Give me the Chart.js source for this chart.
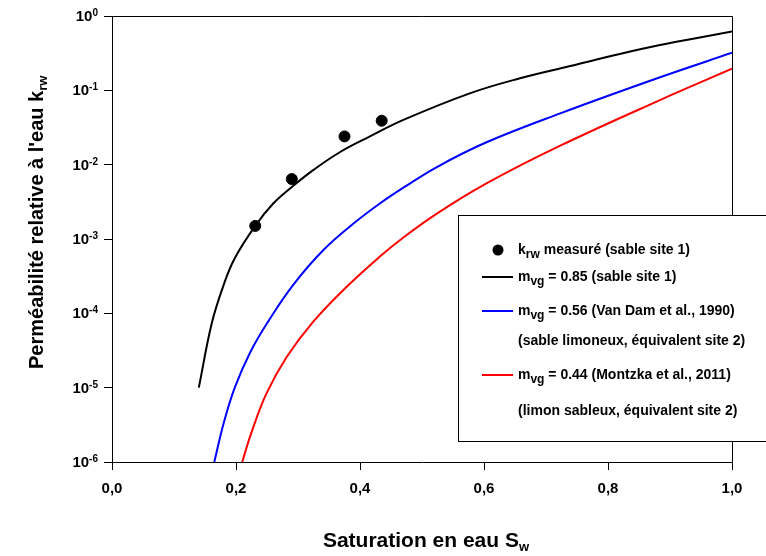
<!DOCTYPE html>
<html>
<head>
<meta charset="utf-8">
<script src="https://cdn.jsdelivr.net/npm/chart.js@4.4.0/dist/chart.umd.min.js"></script>
<style>
  html, body { margin: 0; padding: 0; background: #fff; }
  #wrap { width: 766px; height: 556px; }
</style>
</head>
<body>
<div id="wrap"><canvas id="krwChart" width="766" height="556"></canvas></div>
<script>
// Measured points (sable site 1)
const swMesure = [0.231, 0.290, 0.375, 0.435];
const krwMesure = [1.5e-3, 6.4e-3, 2.4e-2, 3.9e-2];

// m_vg = 0.85 (sable site 1)
const sw085 = [0.14, 0.161, 0.18, 0.198, 0.231, 0.26, 0.29, 0.325, 0.368, 0.416, 0.47, 0.577, 0.658, 0.739, 0.819, 0.884, 0.948, 1.0];
const krw085 = [1.0e-5, 7.4e-5, 2.4e-4, 5.5e-4, 1.5e-3, 3.0e-3, 5.0e-3, 8.5e-3, 1.48e-2, 2.4e-2, 4.0e-2, 9.1e-2, 0.145, 0.212, 0.309, 0.407, 0.513, 0.62];

// m_vg = 0.56 (Van Dam et al., 1990)
const sw056 = [0.165, 0.18, 0.198, 0.223, 0.252, 0.292, 0.341, 0.389, 0.432, 0.47, 0.524, 0.604, 0.723, 0.884, 1.0];
const krw056 = [1.0e-6, 3.3e-6, 1.0e-5, 3.0e-5, 7.8e-5, 2.4e-4, 7.1e-4, 1.6e-3, 3.0e-3, 4.9e-3, 9.3e-3, 2.0e-2, 4.9e-2, 0.15, 0.32];

// m_vg = 0.44 (Montzka et al., 2011)
const sw044 = [0.21, 0.225, 0.249, 0.282, 0.325, 0.379, 0.432, 0.47, 0.524, 0.604, 0.723, 0.884, 1.0];
const krw044 = [1.0e-6, 2.5e-6, 8.3e-6, 2.6e-5, 7.8e-5, 2.3e-4, 5.8e-4, 1.05e-3, 2.2e-3, 5.6e-3, 1.8e-2, 7.4e-2, 0.195];

// Axis ticks
const xTicks = [0, 0.2, 0.4, 0.6, 0.8, 1.0];
const yExponents = [0, -1, -2, -3, -4, -5, -6];

const FONT = '"Liberation Sans", Arial, sans-serif';

function pts(xs, ys) {
  return xs.map((x, i) => ({ x: x, y: ys[i] }));
}

// draw text made of parts, some of them sub/superscript
function drawParts(ctx, parts, x, y, size, smallSize) {
  let cx = x;
  parts.forEach((p) => {
    const s = p.sub || p.sup ? smallSize : size;
    ctx.font = "bold " + s + "px " + FONT;
    let dy = 0;
    if (p.sub) dy = size * 0.3;
    if (p.sup) dy = -size * 0.26;
    ctx.fillText(p.t, cx, y + dy);
    cx += ctx.measureText(p.t).width;
  });
  return cx - x;
}

function partsWidth(ctx, parts, size, smallSize) {
  let w = 0;
  parts.forEach((p) => {
    ctx.font = "bold " + (p.sub || p.sup ? smallSize : size) + "px " + FONT;
    w += ctx.measureText(p.t).width;
  });
  return w;
}

const decorPlugin = {
  id: "decor",
  afterDraw(chart) {
    const ctx = chart.ctx;
    const area = chart.chartArea;
    const yScale = chart.scales.y;
    ctx.save();
    ctx.fillStyle = "#000";
    ctx.strokeStyle = "#000";
    ctx.lineWidth = 1;

    // frame top and right
    ctx.beginPath();
    ctx.moveTo(area.left, Math.round(area.top) + 0.5);
    ctx.lineTo(Math.round(area.right) + 0.5, Math.round(area.top) + 0.5);
    ctx.lineTo(Math.round(area.right) + 0.5, area.bottom);
    ctx.stroke();

    // y tick labels 10^n
    ctx.textBaseline = "middle";
    yExponents.forEach((e) => {
      const py = yScale.getPixelForValue(Math.pow(10, e));
      const parts = [{ t: "10" }, { t: e === 0 ? "0" : "-" + Math.abs(e), sup: true }];
      const w = partsWidth(ctx, parts, 15, 10);
      drawParts(ctx, parts, 98 - w, py + 1, 15, 10);
    });

    // x axis title
    const xt = [{ t: "Saturation en eau S" }, { t: "w", sub: true }];
    const xw = partsWidth(ctx, xt, 21, 13);
    drawParts(ctx, xt, (area.left + area.right) / 2 - xw / 2 + 4, 541, 21, 13);

    // y axis title
    const yt = [{ t: "Perméabilité relative à l'eau k" }, { t: "rw", sub: true }];
    ctx.save();
    ctx.translate(37, 369);
    ctx.rotate(-Math.PI / 2);
    drawParts(ctx, yt, 0, 0, 20, 13);
    ctx.restore();

    // legend box (white, covers the frame)
    ctx.fillStyle = "#fff";
    ctx.fillRect(458.5, 215.5, 330, 226);
    ctx.strokeRect(458.5, 215.5, 330, 226);
    ctx.fillStyle = "#000";
    const lx = 518;
    ctx.beginPath();
    ctx.arc(498, 250, 5.5, 0, Math.PI * 2);
    ctx.fill();
    drawParts(ctx, [{ t: "k" }, { t: "rw", sub: true }, { t: " measuré (sable site 1)" }], lx, 250, 14, 12);

    const rows = [
      { y: 277, color: "#000000", parts: [{ t: "m" }, { t: "vg", sub: true }, { t: " = 0.85 (sable site 1)" }] },
      { y: 311, color: "#0000ff", parts: [{ t: "m" }, { t: "vg", sub: true }, { t: " = 0.56 (Van Dam et al., 1990)" }] },
      { y: 341, color: null, parts: [{ t: "(sable limoneux, équivalent site 2)" }] },
      { y: 375, color: "#ff0000", parts: [{ t: "m" }, { t: "vg", sub: true }, { t: " = 0.44 (Montzka et al., 2011)" }] },
      { y: 411, color: null, parts: [{ t: "(limon sableux, équivalent site 2)" }] },
    ];
    rows.forEach((r) => {
      if (r.color) {
        ctx.strokeStyle = r.color;
        ctx.lineWidth = 2;
        ctx.beginPath();
        ctx.moveTo(482, r.y);
        ctx.lineTo(513, r.y);
        ctx.stroke();
      }
      ctx.fillStyle = "#000";
      drawParts(ctx, r.parts, lx, r.y, 14, 12);
    });
    ctx.restore();
  },
};

const ctx = document.getElementById("krwChart");
new Chart(ctx, {
  type: "line",
  data: {
    datasets: [
      {
        type: "scatter",
        label: "krw measuré",
        data: pts(swMesure, krwMesure),
        pointRadius: 5.5,
        pointBackgroundColor: "#000",
        pointBorderColor: "#000",
        showLine: false,
      },
      {
        label: "mvg = 0.85",
        data: pts(sw085, krw085),
        borderColor: "#000000",
        borderWidth: 2,
        pointRadius: 0,
        tension: 0.4,
      },
      {
        label: "mvg = 0.56",
        data: pts(sw056, krw056),
        borderColor: "#0000ff",
        borderWidth: 2,
        pointRadius: 0,
        tension: 0.4,
      },
      {
        label: "mvg = 0.44",
        data: pts(sw044, krw044),
        borderColor: "#ff0000",
        borderWidth: 2,
        pointRadius: 0,
        tension: 0.4,
      },
    ],
  },
  options: {
    responsive: false,
    animation: false,
    devicePixelRatio: 1,
    layout: { padding: { top: 16, right: 34, left: 0, bottom: 0 } },
    plugins: {
      legend: { display: false },
      tooltip: { enabled: false },
    },
    scales: {
      x: {
        type: "linear",
        min: 0,
        max: 1,
        afterBuildTicks: (scale) => {
          scale.ticks = xTicks.map((v) => ({ value: v }));
        },
        afterFit: (scale) => {
          scale.height = 94;
        },
        ticks: {
          color: "#000",
          padding: 10,
          maxRotation: 0,
          font: { family: FONT, size: 15, weight: "bold" },
          callback: (v) => Number(v).toFixed(1).replace(".", ","),
        },
        grid: {
          drawOnChartArea: false,
          drawTicks: true,
          tickLength: 8,
          color: "#000",
        },
        border: { display: true, color: "#000", width: 1 },
      },
      y: {
        type: "logarithmic",
        min: 1e-6,
        max: 1,
        afterBuildTicks: (scale) => {
          scale.ticks = yExponents.map((e) => ({ value: Math.pow(10, e) }));
        },
        afterFit: (scale) => {
          scale.width = 112;
        },
        ticks: { display: false },
        grid: {
          drawOnChartArea: false,
          drawTicks: true,
          tickLength: 8,
          color: "#000",
        },
        border: { display: true, color: "#000", width: 1 },
      },
    },
  },
  plugins: [decorPlugin],
});
</script>
</body>
</html>
